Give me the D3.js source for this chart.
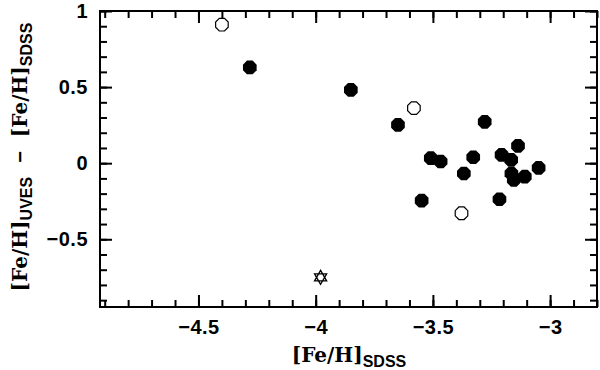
<!DOCTYPE html>
<html>
<head>
<meta charset="utf-8">
<script src="https://cdn.jsdelivr.net/npm/d3@7"></script>
<style>
body { margin: 0; background: #fff; }
svg { display: block; }
.tick text { font-family: "Liberation Sans", Arial, sans-serif; font-weight: bold; font-size: 20px; letter-spacing: 0.5px; fill: #000; }
</style>
</head>
<body>
<svg width="600" height="370"></svg>
<script>
// filled points: [Fe/H]SDSS, [Fe/H]UVES - [Fe/H]SDSS
const filledX = [-4.281, -3.850, -3.649, -3.279, -3.509, -3.467, -3.328, -3.368, -3.548, -3.216, -3.207, -3.137, -3.166, -3.165, -3.155, -3.108, -3.049];
const filledY = [0.629, 0.482, 0.252, 0.272, 0.033, 0.011, 0.039, -0.068, -0.246, -0.237, 0.055, 0.114, 0.022, -0.068, -0.110, -0.088, -0.031];
// open points
const openX = [-4.400, -3.581, -3.378];
const openY = [0.910, 0.362, -0.329];
// star
const starX = [-3.979];
const starY = [-0.750];

const xTicks = [-4.5, -4, -3.5, -3];
const yTicks = [-0.5, 0, 0.5, 1];
const xTickLabels = ["\u22124.5", "\u22124", "\u22123.5", "\u22123"];
const yTickLabels = ["\u22120.5", "0", "0.5", "1"];

const mLeft = 100, mRight = 597, mTop = 11, mBottom = 307;

const svg = d3.select("svg");

const x = d3.scaleLinear().domain([-4.92, -2.8]).range([mLeft, mRight]);
const y = d3.scaleLinear().domain([-0.945, 1]).range([mBottom, mTop]);

const xMinor = d3.range(-49, -27).map(d => d / 10);
const yMinor = d3.range(-9, 11).map(d => d / 10);

function addAxis(axisFn, scale, pos, values, size, labels) {
  const ax = axisFn(scale).tickValues(values).tickSize(size);
  if (labels) ax.tickFormat((d, i) => labels[i]);
  else ax.tickFormat("");
  const g = svg.append("g").attr("transform", pos).call(ax);
  g.select(".domain").remove();
  g.selectAll(".tick line").attr("stroke", "#000").attr("stroke-width", 2);
  return g;
}

// minor ticks all round
addAxis(d3.axisBottom, x, `translate(0,${mBottom})`, xMinor, -7);
addAxis(d3.axisTop, x, `translate(0,${mTop})`, xMinor, -7);
addAxis(d3.axisLeft, y, `translate(${mLeft},0)`, yMinor, -7);
addAxis(d3.axisRight, y, `translate(${mRight},0)`, yMinor, -7);

// major ticks
addAxis(d3.axisBottom, x, `translate(0,${mBottom})`, xTicks, -12, xTickLabels).call(ax => ax.selectAll(".tick text").attr("y", 13));
addAxis(d3.axisTop, x, `translate(0,${mTop})`, xTicks, -12);
addAxis(d3.axisLeft, y, `translate(${mLeft},0)`, yTicks, -12, yTickLabels).call(ax => ax.selectAll(".tick text").attr("x", -12));
addAxis(d3.axisRight, y, `translate(${mRight},0)`, yTicks, -12);

svg.append("rect")
  .attr("x", mLeft).attr("y", mTop)
  .attr("width", mRight - mLeft).attr("height", mBottom - mTop)
  .attr("fill", "none").attr("stroke", "#000").attr("stroke-width", 2);

// octagon symbol
const octagon = {
  draw(context, size) {
    const r = Math.sqrt(size / (2 * Math.SQRT2));
    for (let k = 0; k < 8; k++) {
      const a = Math.PI / 8 + k * Math.PI / 4;
      if (k === 0) context.moveTo(r * Math.cos(a), r * Math.sin(a));
      else context.lineTo(r * Math.cos(a), r * Math.sin(a));
    }
    context.closePath();
  }
};
const hexagram = {
  draw(context, size) {
    const r = Math.sqrt(size);
    for (let t = 0; t < 2; t++) {
      for (let k = 0; k < 3; k++) {
        const a = -Math.PI / 2 + t * Math.PI + k * 2 * Math.PI / 3;
        if (k === 0) context.moveTo(r * Math.cos(a), r * Math.sin(a));
        else context.lineTo(r * Math.cos(a), r * Math.sin(a));
      }
      context.closePath();
    }
  }
};

const octR = 7.4;
const octPath = d3.symbol().type(octagon).size(2 * Math.SQRT2 * octR * octR)();
const openPath = d3.symbol().type(octagon).size(2 * Math.SQRT2 * 6.8 * 6.8)();
const starPath = d3.symbol().type(hexagram).size(49)();

svg.append("g").selectAll("path")
  .data(filledX.map((d, i) => [d, filledY[i]]))
  .join("path")
  .attr("d", octPath)
  .attr("transform", d => `translate(${x(d[0])},${y(d[1])})`)
  .attr("fill", "#000");

svg.append("g").selectAll("path")
  .data(openX.map((d, i) => [d, openY[i]]))
  .join("path")
  .attr("d", openPath)
  .attr("transform", d => `translate(${x(d[0])},${y(d[1])})`)
  .attr("fill", "#fff").attr("stroke", "#000").attr("stroke-width", 1.2);

svg.append("g").selectAll("path")
  .data(starX.map((d, i) => [d, starY[i]]))
  .join("path")
  .attr("d", starPath)
  .attr("transform", d => `translate(${x(d[0])},${y(d[1])})`)
  .attr("fill", "none").attr("stroke", "#000").attr("stroke-width", 1.3);

// axis titles
const serif = '"DejaVu Serif", serif';
const sans = '"Liberation Sans", Arial, sans-serif';

const xt = svg.append("text")
  .attr("x", 349).attr("y", 362)
  .attr("text-anchor", "middle").attr("font-weight", "bold");
xt.append("tspan").attr("font-family", serif).attr("font-size", 20).text("[Fe/H]");
xt.append("tspan").attr("font-family", sans).attr("font-size", 16).attr("dy", 5).text("SDSS");

const yt = svg.append("text")
  .attr("transform", "translate(27,157) rotate(-90)")
  .attr("text-anchor", "middle").attr("font-weight", "bold");
yt.append("tspan").attr("font-family", serif).attr("font-size", 20).text("[Fe/H]");
yt.append("tspan").attr("font-family", sans).attr("font-size", 16).attr("dy", 5).text("UVES");
yt.append("tspan").attr("font-family", sans).attr("font-size", 20).attr("dy", -5).attr("dx", 14).text("\u2212");
yt.append("tspan").attr("font-family", serif).attr("font-size", 20).attr("dx", 14).text("[Fe/H]");
yt.append("tspan").attr("font-family", sans).attr("font-size", 16).attr("dy", 5).text("SDSS");
</script>
</body>
</html>
